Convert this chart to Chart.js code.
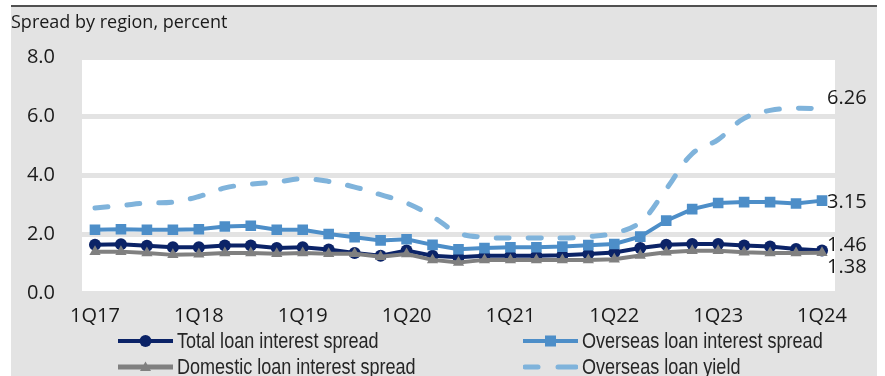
<!DOCTYPE html>
<html><head><meta charset="utf-8">
<script src="https://cdn.jsdelivr.net/npm/chart.js@4.4.1/dist/chart.umd.min.js"></script>
<style>
html,body{margin:0;padding:0;background:#fff;width:885px;height:376px;overflow:hidden;}
#bg{position:absolute;left:11px;top:6px;width:866px;height:370px;background:#e3e3e3;}
#topline{position:absolute;left:11px;top:5px;width:866px;height:2px;background:#505050;}
#c{position:absolute;left:11px;top:6px;}
.leg{position:absolute;height:26px;display:flex;align-items:center;font-family:"Liberation Sans Narrow","Liberation Sans",Arial,sans-serif;font-size:22px;color:#262626;white-space:nowrap;}
.leg svg{margin-right:4px;display:block;flex:none;}
.leg span{display:inline-block;transform:scaleX(0.82);transform-origin:0 50%;}
</style></head>
<body>
<div id="bg"></div><div id="topline"></div>
<canvas id="c" width="866" height="370"></canvas>
<div id="legend"></div>
<script>
const title = "Spread by region, percent";
const categories = ["1Q17","2Q17","3Q17","4Q17","1Q18","2Q18","3Q18","4Q18","1Q19","2Q19","3Q19","4Q19",
  "1Q20","2Q20","3Q20","4Q20","1Q21","2Q21","3Q21","4Q21","1Q22","2Q22","3Q22","4Q22","1Q23","2Q23","3Q23","4Q23","1Q24"];
const tickLabels = ["1Q17","1Q18","1Q19","1Q20","1Q21","1Q22","1Q23","1Q24"];
const yTicks = [0, 2, 4, 6, 8];
const seriesNames = ["Total loan interest spread","Overseas loan interest spread","Domestic loan interest spread","Overseas loan yield"];
const totalSpread = [1.65,1.67,1.62,1.57,1.57,1.63,1.63,1.54,1.57,1.49,1.37,1.28,1.46,1.28,1.23,1.28,1.28,1.28,1.30,1.34,1.39,1.54,1.65,1.68,1.68,1.63,1.59,1.51,1.46];
const overseasSpread = [2.16,2.18,2.16,2.16,2.18,2.27,2.30,2.16,2.16,2.02,1.91,1.80,1.84,1.65,1.50,1.54,1.57,1.57,1.59,1.64,1.68,1.93,2.47,2.86,3.07,3.10,3.10,3.05,3.15];
const domesticSpread = [1.42,1.42,1.37,1.31,1.33,1.37,1.37,1.35,1.37,1.35,1.35,1.25,1.34,1.14,1.05,1.14,1.14,1.14,1.14,1.14,1.16,1.29,1.40,1.45,1.45,1.40,1.37,1.37,1.38];
const overseasYield = [2.90,2.98,3.07,3.10,3.29,3.58,3.71,3.78,3.89,3.80,3.61,3.35,3.07,2.61,2.05,1.91,1.88,1.88,1.88,1.93,2.05,2.42,3.54,4.74,5.22,5.94,6.21,6.28,6.26];

const NAVY = "#0b2367", BLUE = "#4d8ec8", GREY = "#808080", LIGHT = "#7fb3db", BG = "#e3e3e3";
const TICK_FONT = {family: "'Open Sans','Noto Sans',sans-serif", size: 20};

const plotBg = {
  id: 'plotBg',
  beforeDraw(chart) {
    const a = chart.chartArea, ctx = chart.ctx;
    ctx.save(); ctx.fillStyle = '#fff';
    ctx.fillRect(a.left, a.top, a.right - a.left, a.bottom - a.top);
    ctx.restore();
  }
};
// end-of-line value labels, offsets keep them apart
const endLabels = {
  id: 'endLabels',
  afterDatasetsDraw(chart) {
    const ctx = chart.ctx;
    const offsets = {0: -5, 1: 2, 2: 14, 3: -11};
    ctx.save();
    ctx.font = "20px 'Open Sans','Noto Sans',sans-serif";
    ctx.fillStyle = '#1a1a1a';
    ctx.textAlign = 'left'; ctx.textBaseline = 'middle';
    chart.data.datasets.forEach((ds, i) => {
      const meta = chart.getDatasetMeta(i);
      const pt = meta.data[meta.data.length - 1];
      const v = ds.data[ds.data.length - 1];
      ctx.fillText(v.toFixed(2), pt.x + 5, pt.y + offsets[ds.key]);
    });
    ctx.restore();
  }
};

const datasets = [
  {key: 1, label: seriesNames[1], data: overseasSpread, borderColor: BLUE, backgroundColor: BLUE, borderWidth: 4,
   pointStyle: 'rect', pointRadius: 7.5, pointBorderWidth: 0, pointBackgroundColor: BLUE, tension: 0},
  {key: 2, label: seriesNames[2], data: domesticSpread, borderColor: GREY, backgroundColor: GREY, borderWidth: 4,
   pointStyle: 'triangle', pointRadius: 6.5, pointBorderWidth: 0, pointBackgroundColor: GREY, tension: 0},
  {key: 0, label: seriesNames[0], data: totalSpread, borderColor: NAVY, backgroundColor: NAVY, borderWidth: 4,
   pointStyle: 'circle', pointRadius: 6, pointBorderWidth: 0, pointBackgroundColor: NAVY, tension: 0},
  {key: 3, label: seriesNames[3], data: overseasYield, borderColor: LIGHT, backgroundColor: LIGHT, borderWidth: 5,
   borderDash: [13, 19], borderCapStyle: 'round', pointRadius: 0, tension: 0.4}
];

const chart = new Chart(document.getElementById('c'), {
  type: 'line',
  data: {labels: categories, datasets},
  plugins: [plotBg, endLabels],
  options: {
    responsive: false, animation: false, devicePixelRatio: 1,
    layout: {padding: {left: 0, right: 42, top: 0, bottom: 42.5}},
    plugins: {
      legend: {display: false}, tooltip: {enabled: false},
      title: {display: true, text: title, align: 'start', color: '#1a1a1a',
        font: {family: "'Open Sans','Noto Sans',sans-serif", size: 18, weight: 'normal'},
        padding: {top: 6, bottom: 24}}
    },
    scales: {
      x: {
        offset: true,
        grid: {display: false}, border: {display: false},
        ticks: {autoSkip: false, maxRotation: 0, minRotation: 0, padding: 3, color: '#1a1a1a', font: TICK_FONT,
          callback(v, i) { const l = categories[i]; return tickLabels.includes(l) ? l : ''; }},
        afterFit(s) { s.height = 40; }
      },
      y: {
        min: yTicks[0], max: yTicks[yTicks.length - 1],
        grid: {color: BG, lineWidth: 5, drawTicks: false}, border: {display: false},
        ticks: {stepSize: 2, padding: 27, color: '#1a1a1a', font: TICK_FONT, callback: v => Number(v).toFixed(1)},
        afterFit(s) { s.width = 71; }
      }
    }
  }
});

// HTML legend built from the datasets
(function buildLegend() {
  const slots = {0: [118, 341], 1: [523, 341], 2: [118, 367], 3: [523, 367]};
  const host = document.getElementById('legend');
  chart.data.datasets.forEach(ds => {
    const [x, cy] = slots[ds.key];
    const c = ds.borderColor;
    let marker = '';
    if (ds.pointStyle === 'circle') marker = `<circle cx="27.5" cy="7" r="6" fill="${c}"/>`;
    else if (ds.pointStyle === 'rect') marker = `<rect x="22" y="1.5" width="11" height="11" fill="${c}"/>`;
    else if (ds.pointStyle === 'triangle') marker = `<polygon points="27.5,1.5 33,11 22,11" fill="${c}"/>`;
    let line = ds.borderDash
      ? `<line x1="2" y1="7" x2="15" y2="7" stroke="${c}" stroke-width="5" stroke-linecap="round"/><line x1="35" y1="7" x2="53" y2="7" stroke="${c}" stroke-width="5" stroke-linecap="round"/>`
      : `<line x1="0" y1="7" x2="55" y2="7" stroke="${c}" stroke-width="${ds.pointStyle==='triangle'?5:4}" stroke-linecap="round"/>`;
    const d = document.createElement('div');
    d.className = 'leg';
    d.style.left = x + 'px'; d.style.top = (cy - 13) + 'px';
    d.innerHTML = `<svg width="55" height="14" viewBox="0 0 55 14">${line}${marker}</svg><span>${ds.label}</span>`;
    host.appendChild(d);
  });
})();
</script>
</body></html>
